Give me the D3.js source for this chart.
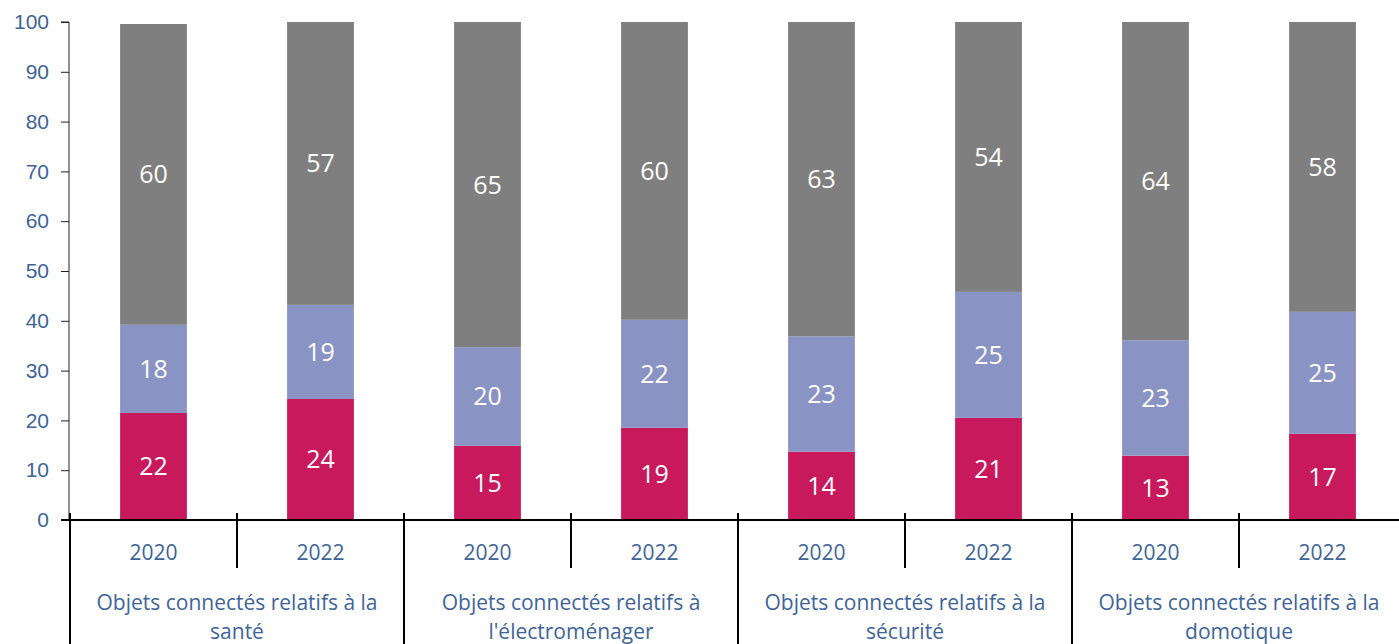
<!DOCTYPE html>
<html>
<head>
<meta charset="utf-8">
<script src="https://cdn.jsdelivr.net/npm/d3@7"></script>
<style>
  body { margin: 0; background: #fff; }
  svg { display: block; font-family: "Open Sans", "Noto Sans", sans-serif; }
  .tick-label { fill: #3F6497; font-size: 21px; }
  .val-label { fill: #fff; font-size: 25px; text-anchor: middle; }
</style>
</head>
<body>
<div id="chart"></div>
<script>
  const w = 1399;
  const h = 644;

  // data
  const groups = ["Objets connectés relatifs à la|santé", "Objets connectés relatifs à|l'électroménager",
                  "Objets connectés relatifs à la|sécurité", "Objets connectés relatifs à la|domotique"];
  const years = ["2020", "2022"];
  const pinkVals = [21.5, 24.3, 14.9, 18.5, 13.7, 20.5, 12.9, 17.3];
  const lavVals = [17.7, 18.9, 19.8, 21.7, 23.2, 25.3, 23.2, 24.5];
  const grayVals = [60.4, 56.8, 65.3, 59.8, 63.1, 54.2, 63.9, 58.2];
  const yTicks = [0, 10, 20, 30, 40, 50, 60, 70, 80, 90, 100];
  const colors = ["#C8195D", "#8A94C4", "#7F7F7F"];

  const series = [pinkVals, lavVals, grayVals];
  const bars = pinkVals.map((d, i) => ({ id: i, group: Math.floor(i / 2), year: years[i % 2] }));

  const x0 = 70, plotTop = 22, plotBottom = 520;
  const band = 167;

  const x = d3.scaleBand().domain(bars.map(d => d.id)).range([x0, x0 + band * bars.length]).paddingInner(0.6).paddingOuter(0.3);
  const y = d3.scaleLinear().domain([0, 100]).range([plotBottom, plotTop]);

  const svg = d3.select('#chart').append('svg')
      .attr('width', w)
      .attr('height', h);

  // stacked segments
  const layers = bars.map((b, i) => {
    let acc = 0;
    return series.map((s, k) => {
      const seg = { id: b.id, k: k, y0: acc, y1: acc + s[i], v: s[i] };
      acc += s[i];
      return seg;
    });
  }).flat();

  svg.append('g').selectAll('rect')
    .data(layers)
    .enter().append('rect')
      .attr('x', d => x(d.id))
      .attr('width', x.bandwidth())
      .attr('y', d => y(d.y1))
      .attr('height', d => y(d.y0) - y(d.y1))
      .style('fill', d => colors[d.k]);

  svg.append('g').selectAll('text')
    .data(layers)
    .enter().append('text')
      .attr('class', 'val-label')
      .attr('x', d => x(d.id) + x.bandwidth() / 2)
      .attr('y', d => (y(d.y0) + y(d.y1)) / 2)
      .attr('dy', '.36em')
      .text(d => Math.round(d.v));

  // y axis
  const yAxis = svg.append('g')
      .attr('transform', 'translate(' + (x0 - 1) + ',0)')
      .call(d3.axisLeft(y).tickValues(yTicks).tickSize(8).tickPadding(12));
  yAxis.select('.domain').attr('stroke', '#222').attr('d', 'M-8,' + plotTop + 'H0V' + plotBottom);
  yAxis.selectAll('.tick line').attr('stroke', '#222');
  yAxis.selectAll('.tick text').attr('class', 'tick-label').style('font-family', null).attr('font-size', null).attr('fill', null);

  // x axis line
  svg.append('line')
      .attr('x1', x0 - 9).attr('x2', w)
      .attr('y1', plotBottom).attr('y2', plotBottom)
      .style('stroke', '#000').style('stroke-width', 2);

  // category dividers
  const divs = d3.range(bars.length + 1).map(i => ({ x: x0 + i * band, long: i % 2 === 0 }));
  svg.append('g').selectAll('line')
    .data(divs)
    .enter().append('line')
      .attr('x1', d => d.x).attr('x2', d => d.x)
      .attr('y1', plotBottom - 7)
      .attr('y2', d => d.long ? h : 568)
      .style('stroke', '#000').style('stroke-width', 2);

  // year labels
  svg.append('g').selectAll('text')
    .data(bars)
    .enter().append('text')
      .attr('class', 'tick-label')
      .attr('x', d => x(d.id) + x.bandwidth() / 2)
      .attr('y', 553)
      .attr('dy', '.35em')
      .attr('text-anchor', 'middle')
      .text(d => d.year);

  // group labels
  const gl = svg.append('g').selectAll('text')
    .data(groups)
    .enter().append('text')
      .attr('class', 'tick-label')
      .attr('x', (d, i) => x0 + (i * 2 + 1) * band)
      .attr('text-anchor', 'middle');
  gl.each(function(d) {
    const lines = d.split('|');
    d3.select(this).selectAll('tspan')
      .data(lines)
      .enter().append('tspan')
        .attr('x', this.getAttribute('x'))
        .attr('y', (l, j) => 603 + j * 29)
        .attr('dy', '.35em')
        .text(l => l);
  });
</script>
</body>
</html>
